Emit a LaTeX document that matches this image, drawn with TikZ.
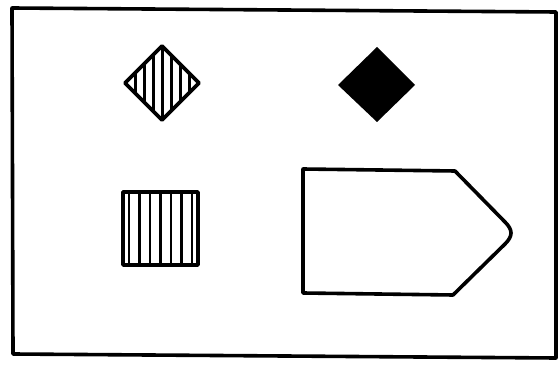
\documentclass[tikz,border=0pt]{standalone}
\begin{document}
\begin{tikzpicture}[x=1pt,y=-1pt,
  outline/.style={line width=3.6pt,line join=round},
  hatch/.style={line width=2.6pt}]
\useasboundingbox (0,0) rectangle (560,366);
% frame
\draw[outline] (12,8) -- (556,12) -- (556,358) -- (13,354) -- cycle;
% hatched diamond
\begin{scope}
  \clip (125,83) -- (162,46) -- (199,83) -- (162,120) -- cycle;
  \foreach \k in {-3,...,3}
    \draw[hatch] (162.5+9*\k,40) -- (162.5+9*\k,126);
\end{scope}
\draw[outline] (125,83) -- (162,46) -- (199,83) -- (162,120) -- cycle;
% filled diamond
\fill[black] (338,85) -- (377,47) -- (415,85) -- (377,122) -- cycle;
% hatched square
\foreach \k in {-3,...,3}
  \draw[hatch] (160.5+10.5*\k,192) -- (160.5+10.5*\k,265);
\draw[outline] (123,192) rectangle (198,265);
% pentagon
\draw[outline] (303,169) -- (455,171) -- (505,222)
  .. controls (513,230) and (513,236) .. (505,244)
  -- (453,295) -- (303,293) -- cycle;
\end{tikzpicture}
\end{document}
